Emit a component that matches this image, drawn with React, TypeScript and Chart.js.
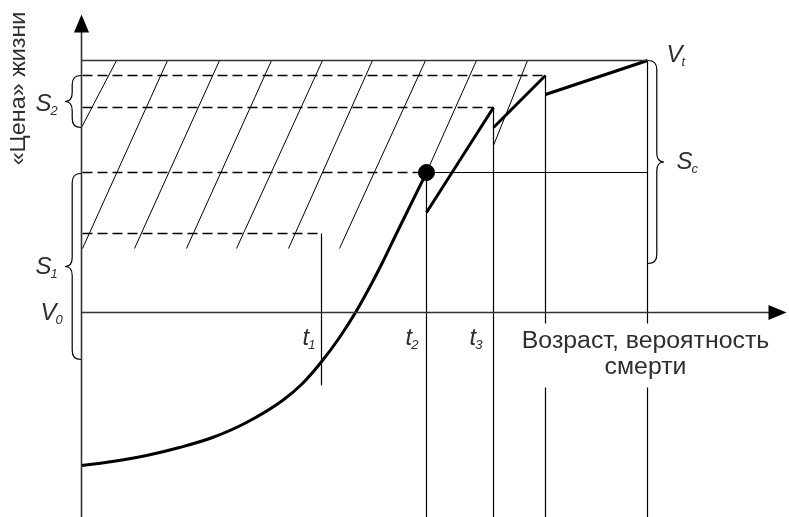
import React, { useEffect, useRef } from "react";
import { Chart, registerables } from "chart.js";

Chart.register(...registerables);

// ---- value ranges of the diagram (age on x, "price of life" on y) ----
const AGE_MIN = -81.5;
const AGE_MAX = 707.5;
const PRICE_MIN = -204.5;
const PRICE_MAX = 312.5;

// key ages
const T1 = 240;
const T2 = 345;
const T3 = 412;
const T4 = 464;
const T_END = 566;
const AXIS_END = 705;
const AXIS_TOP = 298;
const AXIS_BOTTOM = -205;

// key price levels
const V0 = 0;
const LEVEL_1 = 79;
const LEVEL_2 = 140;
const LEVEL_3 = 205;
const LEVEL_4 = 237;
const VT = 252;

// smooth "price of life" curve up to t2
const curveAges = [0, 31, 65, 98, 131, 165, 201, 221, 241, 258, 274, 288, 301, 315, 345];
const curvePrices = [-153, -149, -143, -135, -125, -110, -88, -71, -48, -25, 0, 25, 50, 79, 140];

// saw-tooth continuation after t2
const sawStartAges = [345, 412, 464];
const sawStartPrices = [100, 185, 218];
const sawEndAges = [412, 464, 566];
const sawEndPrices = [205, 237, 252];

// hatch lines (top -> bottom)
const hatchTopAges = [35, 86, 138, 190, 241, 291, 344, 395, 446];
const hatchTopPrices = [252, 252, 252, 252, 252, 252, 252, 252, 252];
const hatchBottomAges = [0, 1, 53, 105, 155, 207, 258, 345, 412];
const hatchBottomPrices = [185, 64, 64, 64, 64, 64, 64, 140, 167];

// dashed horizontal levels and where they end
const dashedLevels = [LEVEL_4, LEVEL_3, LEVEL_2, LEVEL_1];
const dashedEnds = [T4, T3, T2, T1];

// vertical lines: age, from price, to price
const verticalAges = [T1, T2, T3, T4, T4, T_END, T_END];
const verticalFrom = [LEVEL_1, LEVEL_2, LEVEL_3, LEVEL_4, -75, VT, -75];
const verticalTo = [-73, AXIS_BOTTOM, AXIS_BOTTOM, -11, AXIS_BOTTOM, -11, AXIS_BOTTOM];

// braces: age of edge, top price, bottom price, direction
const braceAges = [0, 0, T_END];
const braceTops = [LEVEL_4, 139, VT];
const braceBottoms = [185, -47, 49];
const braceDirs = [-1, -1, 1];

// italic symbol labels
const symbolMain = ["S", "S", "V", "t", "t", "t", "V", "S"];
const symbolSub = ["2", "1", "0", "1", "2", "3", "t", "c"];
const symbolAges = [-46, -46, -41, 221, 324, 388, 585, 595];
const symbolPrices = [202, 39, -7, -32, -32, -32, 251, 144];

// axis titles
const yTitle = "«Цена» жизни";
const yTitleAge = -63;
const yTitlePrice = 224;
const xTitleLines = ["Возраст, вероятность", "смерти"];
const xTitleAge = 564;
const xTitlePrices = [-35, -61];

const FONT = "'Liberation Sans', Arial, sans-serif";
const TEXT_COLOR = "#2e2e2e";

type P = { x: number; y: number };
const seg = (x1: number, y1: number, x2: number, y2: number): P[] => [
  { x: x1, y: y1 },
  { x: x2, y: y2 },
];

const lineDs = (data: P[], extra: any = {}) => ({
  type: "scatter" as const,
  data,
  showLine: true,
  pointRadius: 0,
  borderColor: "#000",
  borderWidth: 1,
  fill: false,
  ...extra,
});

const schematicPlugin = {
  id: "schematic",
  afterDatasetsDraw(chart: any) {
    const ctx: CanvasRenderingContext2D = chart.ctx;
    const xs = chart.scales.x;
    const ys = chart.scales.y;
    const px = (v: number) => xs.getPixelForValue(v);
    const py = (v: number) => ys.getPixelForValue(v);
    ctx.save();

    // arrow heads
    ctx.fillStyle = "#000";
    const yTip = py(AXIS_TOP);
    const x0 = px(0);
    ctx.beginPath();
    ctx.moveTo(x0, yTip);
    ctx.lineTo(x0 - 7.5, yTip + 18);
    ctx.lineTo(x0 + 7.5, yTip + 18);
    ctx.closePath();
    ctx.fill();
    const xTip = px(AXIS_END);
    const y0 = py(0);
    ctx.beginPath();
    ctx.moveTo(xTip, y0);
    ctx.lineTo(xTip - 18, y0 - 7.5);
    ctx.lineTo(xTip - 18, y0 + 7.5);
    ctx.closePath();
    ctx.fill();

    // braces
    ctx.strokeStyle = "#000";
    ctx.lineWidth = 1.2;
    braceAges.forEach((a, i) => {
      const bx = px(a) + braceDirs[i] * 0.5;
      const top = py(braceTops[i]);
      const bot = py(braceBottoms[i]);
      const dir = braceDirs[i];
      const w = 16;
      const xm = bx + dir * w * 0.55;
      const xt = bx + dir * w;
      const ym = (top + bot) / 2;
      const r = Math.min(9, (bot - top) / 4);
      ctx.beginPath();
      ctx.moveTo(bx, top);
      ctx.quadraticCurveTo(xm, top, xm, top + r);
      ctx.lineTo(xm, ym - r);
      ctx.quadraticCurveTo(xm, ym, xt, ym);
      ctx.quadraticCurveTo(xm, ym, xm, ym + r);
      ctx.lineTo(xm, bot - r);
      ctx.quadraticCurveTo(xm, bot, bx, bot);
      ctx.stroke();
    });

    // symbol labels
    ctx.fillStyle = TEXT_COLOR;
    ctx.textBaseline = "alphabetic";
    ctx.textAlign = "left";
    symbolMain.forEach((m, i) => {
      const lx = px(symbolAges[i]);
      const ly = py(symbolPrices[i]);
      ctx.font = `italic 24px ${FONT}`;
      ctx.fillText(m, lx, ly);
      const w = ctx.measureText(m).width;
      ctx.font = `italic 13px ${FONT}`;
      ctx.fillText(symbolSub[i], lx + w - 1, ly + 4);
    });

    // axis titles
    ctx.font = `23px ${FONT}`;
    ctx.textAlign = "center";
    xTitleLines.forEach((t, i) => {
      ctx.save();
      ctx.translate(px(xTitleAge), py(xTitlePrices[i]));
      ctx.scale(1.08, 1);
      ctx.fillText(t, 0, 0);
      ctx.restore();
    });
    ctx.save();
    ctx.translate(px(yTitleAge), py(yTitlePrice));
    ctx.rotate(-Math.PI / 2);
    ctx.scale(1.06, 1);
    ctx.font = `22px ${FONT}`;
    ctx.textBaseline = "middle";
    ctx.fillText(yTitle, 0, 0);
    ctx.restore();

    ctx.restore();
  },
};

export default function App() {
  const ref = useRef<HTMLCanvasElement>(null);

  useEffect(() => {
    if (!ref.current) return;
    const datasets: any[] = [];

    // axes
    datasets.push(lineDs(seg(0, AXIS_BOTTOM, 0, AXIS_TOP - 16), { borderColor: "#333", borderWidth: 1.6 }));
    datasets.push(lineDs(seg(0, V0, AXIS_END - 16, V0), { borderColor: "#333", borderWidth: 1.6 }));

    // top level Vt
    datasets.push(lineDs(seg(0, VT, T_END, VT), { borderColor: "#333", borderWidth: 1.6 }));
    // solid level through the dot
    datasets.push(lineDs(seg(T2, LEVEL_2, T_END, LEVEL_2), { borderWidth: 1.2 }));

    // dashed levels
    dashedLevels.forEach((lv, i) => {
      datasets.push(lineDs(seg(1, lv, dashedEnds[i], lv), { borderDash: [10, 5], borderWidth: 1.3 }));
    });

    // verticals
    verticalAges.forEach((a, i) => {
      datasets.push(lineDs(seg(a, verticalFrom[i], a, verticalTo[i]), { borderWidth: 1.2 }));
    });

    // hatches
    hatchTopAges.forEach((a, i) => {
      datasets.push(
        lineDs(seg(a, hatchTopPrices[i], hatchBottomAges[i], hatchBottomPrices[i]), { borderWidth: 1 })
      );
    });

    // curve
    datasets.push(
      lineDs(
        curveAges.map((a, i) => ({ x: a, y: curvePrices[i] })),
        { borderWidth: 3, cubicInterpolationMode: "monotone", borderJoinStyle: "round" }
      )
    );
    // saw teeth
    sawStartAges.forEach((a, i) => {
      datasets.push(lineDs(seg(a, sawStartPrices[i], sawEndAges[i], sawEndPrices[i]), { borderWidth: 3 }));
    });
    // dot
    datasets.push({
      type: "scatter",
      data: [{ x: T2, y: LEVEL_2 }],
      pointRadius: 8,
      pointBackgroundColor: "#000",
      pointBorderColor: "#000",
      showLine: false,
    });

    const chart = new Chart(ref.current, {
      type: "scatter",
      data: { datasets },
      options: {
        animation: false,
        responsive: false,
        maintainAspectRatio: false,
        devicePixelRatio: 1,
        layout: { padding: 0, autoPadding: false },
        plugins: { legend: { display: false }, tooltip: { enabled: false } },
        events: [],
        scales: {
          x: { type: "linear", min: AGE_MIN, max: AGE_MAX, display: false },
          y: { type: "linear", min: PRICE_MIN, max: PRICE_MAX, display: false },
        },
      },
      plugins: [schematicPlugin],
    });
    return () => chart.destroy();
  }, []);

  return (
    <div style={{ position: "fixed", left: 0, top: 0, width: 789, height: 517, background: "#fff" }}>
      <canvas ref={ref} width={789} height={517} style={{ display: "block" }} />
    </div>
  );
}
